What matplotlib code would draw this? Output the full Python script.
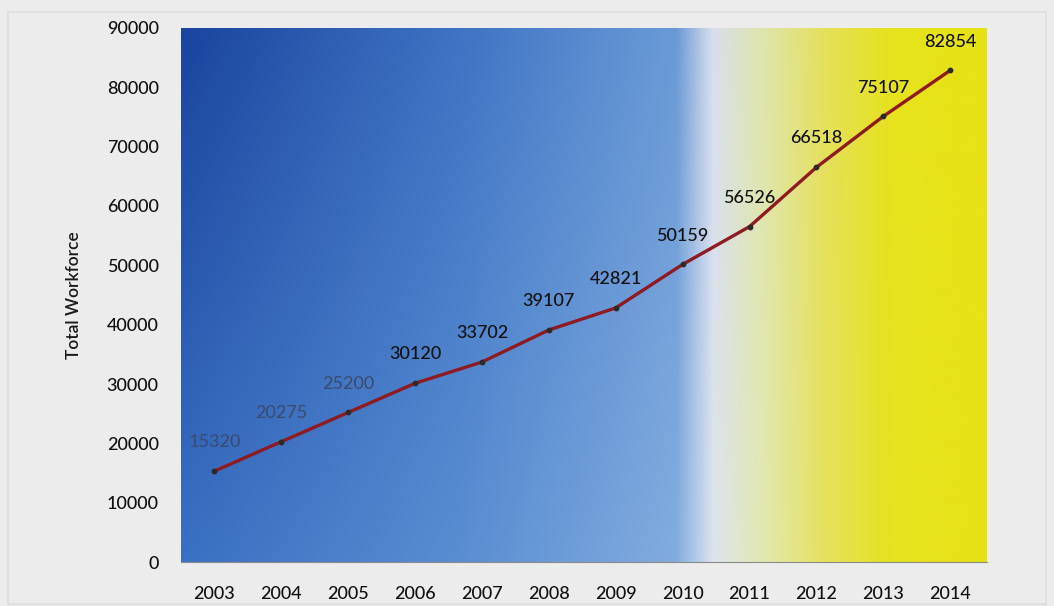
import numpy as np
import matplotlib.pyplot as plt
from matplotlib.colors import to_rgb
from matplotlib.patches import Rectangle

plt.rcParams['font.family'] = ['Lato', 'DejaVu Sans']

# Workforce per year
years = ['2003', '2004', '2005', '2006', '2007', '2008',
         '2009', '2010', '2011', '2012', '2013', '2014']
workforce = [15320, 20275, 25200, 30120, 33702, 39107,
             42821, 50159, 56526, 66518, 75107, 82854]
y_ticks = [0, 10000, 20000, 30000, 40000, 50000, 60000, 70000, 80000, 90000]

fig = plt.figure(figsize=(10.54, 6.06), dpi=100)
fig.patch.set_facecolor('#ececec')
fig.patches.append(Rectangle((0.008, 0.004), 0.984, 0.976, transform=fig.transFigure,
                             fill=False, edgecolor='#dedede', linewidth=1.2))

ax = fig.add_axes([0.1717, 0.0726, 0.7647, 0.8812])

x_lo, x_hi = -0.5, 11.55

# blue-to-yellow background, darker along the top of the blue part
stops = [0.0, 0.35, 0.615, 0.64, 0.66, 0.72, 0.80, 0.88, 1.0]
top_cols = ['#1a449e', '#3f74c4', '#6a9ad6', '#a8c0e4', '#d8dfec',
            '#dfe5b0', '#e4e05a', '#e6e21e', '#e6e214']
bot_cols = ['#3a70c2', '#5a8ed2', '#82acdf', '#b4cbe8', '#dce3ee',
            '#e2e8b4', '#e6e25e', '#e6e220', '#e6e216']
nx, ny = 800, 200
fx = np.linspace(0, 1, nx)
top = np.stack([np.interp(fx, stops, [to_rgb(c)[k] for c in top_cols]) for k in range(3)], axis=-1)
bot = np.stack([np.interp(fx, stops, [to_rgb(c)[k] for c in bot_cols]) for k in range(3)], axis=-1)
fy = np.linspace(0, 1, ny)[:, None, None]
grad = top[None, :, :] * (1 - fy) + bot[None, :, :] * fy
ax.imshow(grad, extent=[x_lo, x_hi, 0, 90000], aspect='auto', zorder=0, origin='upper')

x = np.arange(len(years))
ax.plot(x, workforce, color='#8e1a22', linewidth=2.4, zorder=2)
ax.scatter(x, workforce, s=10, color='#2a2a2a', zorder=3)

for i, v in enumerate(workforce):
    col = '#3a4d74' if i < 3 else '#111111'
    ax.annotate(str(v), (i, v), xytext=(0, 15), textcoords='offset points',
                ha='center', va='bottom', fontsize=13, fontweight='medium',
                color=col, zorder=4)

ax.set_xlim(x_lo, x_hi)
ax.set_ylim(0, 90000)
ax.set_xticks(x)
ax.set_xticklabels(years, fontweight='medium')
ax.set_yticks(y_ticks)
ax.set_yticklabels([str(t) for t in y_ticks], fontweight='medium')
ax.tick_params(length=0, labelsize=13, labelcolor='#111111')
ax.tick_params(axis='x', pad=17)
ax.tick_params(axis='y', pad=16)
ax.set_ylabel('Total Workforce', fontsize=12.5, fontweight='semibold',
              color='#1a1a1a', labelpad=18)

for side in ['top', 'right', 'left']:
    ax.spines[side].set_visible(False)
ax.spines['bottom'].set_color('#8a8a8a')
ax.spines['bottom'].set_linewidth(0.8)

plt.savefig('out.png', dpi=100, facecolor=fig.get_facecolor())
